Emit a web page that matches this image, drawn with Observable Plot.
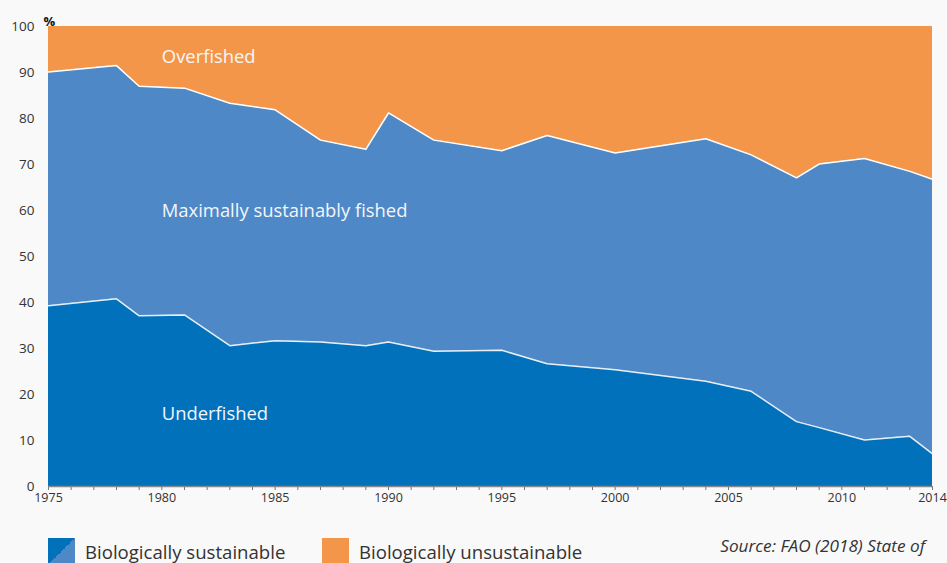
<!DOCTYPE html>
<html>
<head>
<meta charset="utf-8">
<script src="https://cdn.jsdelivr.net/npm/d3@7"></script>
<script src="https://cdn.jsdelivr.net/npm/@observablehq/plot@0.6"></script>
<style>
  html, body { margin: 0; padding: 0; background: #f9f9f9; }
  body { width: 947px; height: 563px; overflow: hidden; position: relative; font-family: "Open Sans", Lato, sans-serif; }
  #chart { position: absolute; left: 0; top: 0; }
  .legend-item { position: absolute; top: 538px; display: flex; align-items: center; font-size: 18.6px; color: #333; }
  .sw { width: 27px; height: 27px; margin-right: 10px; }
  .source { position: absolute; right: 22px; top: 534px; text-align: right; font-style: italic; font-size: 17.2px; color: #333; line-height: 23px; }
</style>
</head>
<body>
<div id="chart"></div>
<div class="legend-item" style="left:48px"><div class="sw" style="background: linear-gradient(to bottom right, #0071ba 50%, #4e88c7 50%);"></div>Biologically sustainable</div>
<div class="legend-item" style="left:322px"><div class="sw" style="background:#f4964a"></div>Biologically unsustainable</div>
<div class="source">Source: FAO (2018) State of<br>World Fisheries and Aquaculture</div>
<script>
const years = [1975, 1978, 1979, 1981, 1983, 1985, 1987, 1989, 1990, 1992, 1995, 1997, 2000, 2004, 2006, 2008, 2009, 2011, 2013, 2014];
const underfished = [39.3, 40.8, 37.1, 37.3, 30.6, 31.7, 31.4, 30.6, 31.4, 29.4, 29.6, 26.7, 25.4, 22.9, 20.7, 14.1, 12.8, 10.1, 10.9, 7.1];
const maxSustainable = [50.8, 50.7, 49.9, 49.3, 52.7, 50.2, 43.9, 42.7, 49.8, 45.9, 43.4, 49.6, 47.1, 52.7, 51.4, 53.0, 57.3, 61.2, 57.6, 59.7];
const overfished = [9.9, 8.5, 13.0, 13.4, 16.7, 18.1, 24.7, 26.7, 18.8, 24.7, 27.0, 23.7, 27.5, 24.4, 27.9, 32.9, 29.9, 28.7, 31.5, 33.2];
const categories = ["Underfished", "Maximally sustainably fished", "Overfished"];
const colors = ["#0071ba", "#4e88c7", "#f4964a"];
const yTicks = [0, 10, 20, 30, 40, 50, 60, 70, 80, 90, 100];
const xTickLabels = [1975, 1980, 1985, 1990, 1995, 2000, 2005, 2010, 2014];
const labelPos = [
  {label: "Overfished", x: 1980, y: 93.3},
  {label: "Maximally sustainably fished", x: 1980, y: 59.8},
  {label: "Underfished", x: 1980, y: 15.7}
];

const series = [underfished, maxSustainable, overfished];
const table = [];
categories.forEach((c, ci) => years.forEach((yr, i) => table.push({year: yr, cat: c, value: series[ci][i]})));
const lower = years.map((yr, i) => ({year: yr, v: underfished[i]}));
const upper = years.map((yr, i) => ({year: yr, v: underfished[i] + maxSustainable[i]}));
const allYears = d3.range(1975, 2015);

const chart = Plot.plot({
  width: 947,
  height: 510,
  marginLeft: 48,
  marginRight: 15,
  marginTop: 26,
  marginBottom: 24,
  style: {background: "transparent", fontFamily: "'Open Sans', Lato, sans-serif"},
  x: {domain: [1975, 2014]},
  y: {domain: [0, 100]},
  color: {domain: categories, range: colors},
  marks: [
    Plot.areaY(table, {x: "year", y: "value", fill: "cat", z: "cat", order: categories}),
    Plot.lineY(lower, {x: "year", y: "v", stroke: "#e6eef7", strokeWidth: 1.5}),
    Plot.lineY(upper, {x: "year", y: "v", stroke: "#ffffff", strokeWidth: 1.5}),
    Plot.text(labelPos, {x: "x", y: "y", text: "label", textAnchor: "start", fill: "#f3f6fa", fontSize: 18.4}),
    Plot.axisY({ticks: yTicks, tickSize: 0, tickPadding: 14, fontSize: 13.5, color: "#333", label: null}),
    Plot.axisX({ticks: allYears, tickSize: 4, tickFormat: () => "", stroke: "#777", label: null}),
    Plot.axisX({ticks: xTickLabels, tickSize: 0, tickPadding: 7, tickFormat: d => String(d), fontSize: 12.5, color: "#333", label: null}),
    Plot.ruleY([0], {stroke: "#888", strokeWidth: 1.5}),
    Plot.text(["%"], {frameAnchor: "top-left", dx: -5, dy: -10, text: d => d, fontWeight: "bold", fontSize: 13, fill: "#111"})
  ]
});
document.getElementById("chart").appendChild(chart);
</script>
</body>
</html>
